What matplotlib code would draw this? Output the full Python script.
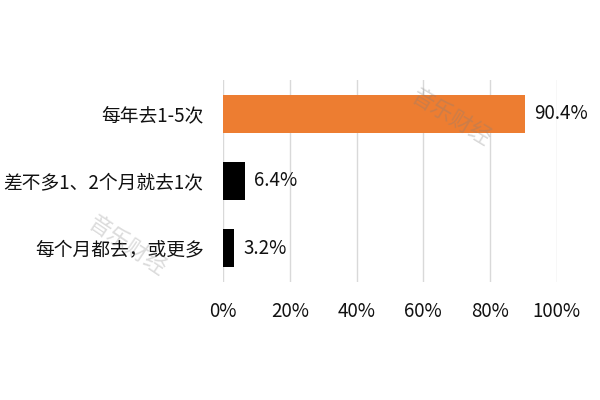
import matplotlib.pyplot as plt
from matplotlib.ticker import FuncFormatter

plt.rcParams['font.family'] = ['Noto Sans CJK SC', 'DejaVu Sans']

# ── Data ──────────────────────────────────────────────────────────────
categories = ["每年去1-5次", "差不多1、2个月就去1次", "每个月都去，或更多"]
shares = [90.4, 6.4, 3.2]
bar_colors = ["#ED7D31", "#000000", "#000000"]
x_ticks = [0, 20, 40, 60, 80, 100]

# ── Figure ────────────────────────────────────────────────────────────
fig = plt.figure(figsize=(6, 4), dpi=100)
ax = fig.add_axes([0.372, 0.295, 0.556, 0.505])

y = list(range(len(categories)))
ax.barh(y, shares, height=0.56, color=bar_colors, zorder=3)
for yi, v in zip(y, shares):
    ax.annotate(f"{v:.1f}%", (v, yi), xytext=(7, 0), textcoords="offset points",
                va="center", ha="left", fontsize=13.5, color="#111111")

ax.set_xlim(0, 100)
ax.set_ylim(len(categories) - 0.5, -0.5)
ax.set_xticks(x_ticks)
ax.xaxis.set_major_formatter(FuncFormatter(lambda v, _: f"{v:.0f}%"))
ax.set_yticks(y)
ax.set_yticklabels(categories)
ax.tick_params(axis="both", length=0, labelsize=13.5, colors="#111111")
ax.tick_params(axis="y", pad=14)
ax.tick_params(axis="x", pad=14)
ax.grid(axis="x", color="#d9d9d9", linewidth=1, zorder=0)
for s in ax.spines.values():
    s.set_visible(False)

# watermarks
fig.text(0.753, 0.705, "音乐财经", rotation=-31, fontsize=16, color="gray",
         alpha=0.3, ha="center", va="center", rotation_mode="anchor")
fig.text(0.212, 0.385, "音乐财经", rotation=-34, fontsize=16, color="gray",
         alpha=0.28, ha="center", va="center", rotation_mode="anchor")

fig.savefig("out.png", dpi=100)
